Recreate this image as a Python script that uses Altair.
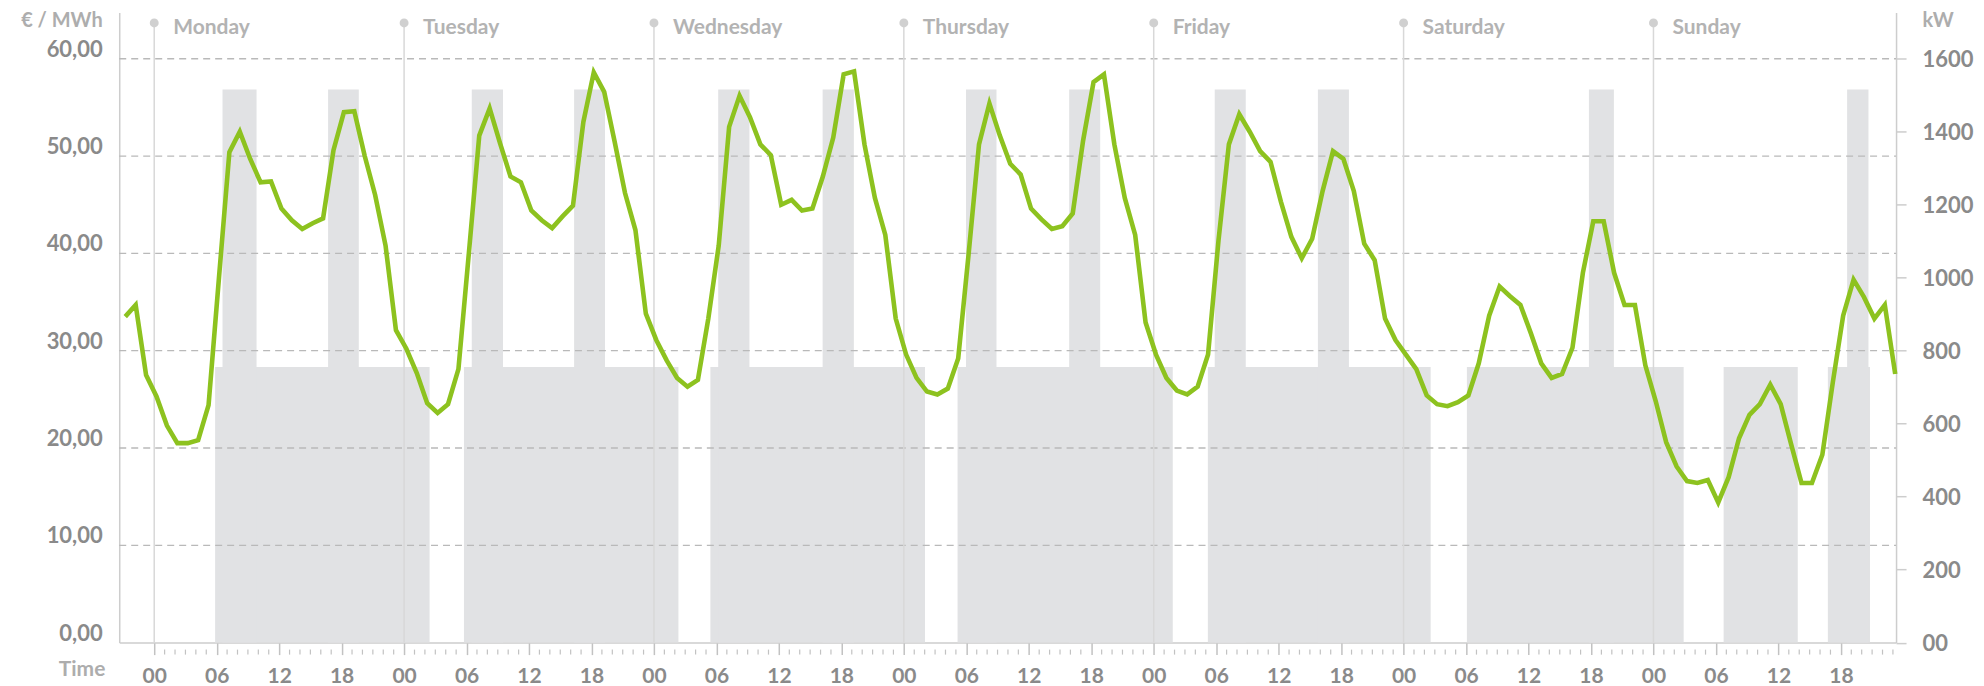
import altair as alt
import pandas as pd

# ---------------- data ----------------
# hourly price points (EUR/MWh), first point 3 hours before Monday 00:00
first_hour = -3
point_offset = 0.22
prices = [
    33.5, 34.7, 27.5,
    # Monday
    25.3, 22.3, 20.5, 20.5, 20.8, 24.4, 37.5, 50.4, 52.5, 49.7, 47.3, 47.4,
    44.6, 43.4, 42.5, 43.1, 43.6, 50.6, 54.5, 54.6, 50.0, 46.0, 40.8, 32.1,
    # Tuesday
    30.2, 27.7, 24.6, 23.6, 24.5, 28.1, 40.0, 52.1, 54.9, 51.3, 47.9, 47.3,
    44.4, 43.4, 42.6, 43.8, 44.9, 53.5, 58.6, 56.6, 51.5, 46.2, 42.4, 33.8,
    # Wednesday
    31.1, 29.0, 27.2, 26.3, 27.0, 33.3, 40.8, 53.0, 56.2, 54.0, 51.2, 50.1,
    45.0, 45.5, 44.4, 44.6, 47.9, 51.9, 58.4, 58.7, 51.2, 45.7, 41.9, 33.3,
    # Thursday
    29.6, 27.2, 25.8, 25.5, 26.1, 29.2, 39.9, 51.2, 55.4, 52.1, 49.2, 48.1,
    44.6, 43.5, 42.5, 42.8, 44.1, 51.6, 57.6, 58.4, 51.2, 45.7, 41.9, 32.9,
    # Friday
    29.6, 27.2, 25.9, 25.5, 26.3, 29.6, 41.3, 51.2, 54.3, 52.5, 50.5, 49.4,
    45.3, 41.7, 39.5, 41.5, 46.4, 50.5, 49.7, 46.4, 41.0, 39.3, 33.3, 31.1,
    # Saturday
    29.6, 28.1, 25.4, 24.5, 24.3, 24.7, 25.4, 28.7, 33.6, 36.6, 35.6, 34.7,
    31.8, 28.7, 27.2, 27.6, 30.3, 38.0, 43.3, 43.3, 38.0, 34.7, 34.7, 28.5,
    # Sunday
    24.8, 20.6, 18.1, 16.6, 16.4, 16.7, 14.4, 17.0, 21.0, 23.4, 24.5, 26.5,
    24.5, 20.4, 16.4, 16.4, 19.3, 26.7, 33.6, 37.3, 35.5, 33.3, 34.7, 27.6,
]

day_names = ["Monday", "Tuesday", "Wednesday", "Thursday", "Friday", "Saturday", "Sunday"]
day_starts = [0, 24, 48, 72, 96, 120, 144]

# grey load blocks (hours since Monday 00:00, kW)
low_start = [5.85, 29.75, 53.42, 77.16, 101.2, 126.08, 150.74, 160.75]
low_end = [26.45, 50.35, 74.03, 97.83, 122.6, 146.9, 157.86, 164.8]
low_kw = 755
peak_start = [6.56, 16.7, 30.5, 40.33, 54.17, 64.2, 77.97, 87.88, 101.86, 111.77, 137.8, 162.6]
peak_end = [9.83, 19.65, 33.5, 43.3, 57.17, 67.2, 80.9, 90.86, 104.84, 114.75, 140.2, 164.65]
peak_kw = 1515

price_ticks = [0, 10, 20, 30, 40, 50, 60]
grid_values = [10, 20, 30, 40, 50, 60]
kw_ticks = [0, 200, 400, 600, 800, 1000, 1200, 1400, 1600]
major_hours = list(range(0, 168, 6))
minor_hours = [h for h in range(0, 168) if h % 6 != 0]

# ---------------- tables ----------------
line_df = pd.DataFrame({
    "h": [first_hour + i + point_offset for i in range(len(prices))],
    "price": prices,
})
blocks_df = pd.DataFrame({
    "start": low_start + peak_start,
    "end": low_end + peak_end,
    "kw": [low_kw] * len(low_start) + [peak_kw] * len(peak_start),
})
days_df = pd.DataFrame({"h": day_starts, "name": day_names})
grid_df = pd.DataFrame({"v": grid_values})
minor_df = pd.DataFrame({"h": minor_hours})

# ---------------- styling ----------------
W, H = 1778, 630.5
FONT = "Lato"
LABEL_GREY = "#8a8a8a"
LIGHT_GREY = "#adadad"
AXIS_GREY = "#cdcdcd"

xscale = alt.Scale(domain=[-3.36, 167.3], nice=False, zero=False)
xaxis = alt.Axis(
    values=major_hours,
    labelExpr="(datum.value % 24 < 10 ? '0' : '') + (datum.value % 24)",
    title="Time", titleX=-61, titleY=27, titleAlign="left", titleBaseline="middle",
    titleFont=FONT, titleFontSize=21, titleFontWeight="bold", titleColor=LIGHT_GREY,
    labelFont=FONT, labelFontSize=21, labelFontWeight="bold", labelColor=LABEL_GREY,
    labelPadding=11, labelBaseline="top", labelFlush=False, labelOverlap=False,
    domainColor=AXIS_GREY, domainWidth=1.5,
    tickColor="#c2c2c2", tickSize=12, tickWidth=1.5, grid=False,
)

price_scale = alt.Scale(domain=[0, 64.75], nice=False, zero=True)
kw_scale = alt.Scale(domain=[0, 1726], nice=False, zero=True)

left_axis = alt.Axis(
    orient="left", values=price_ticks,
    labelExpr="replace(format(datum.value, '.2f'), '.', ',')",
    title="€ / MWh", titleAngle=0, titleX=-17, titleY=7.5,
    titleAlign="right", titleBaseline="middle",
    titleFont=FONT, titleFontSize=20, titleFontWeight="bold", titleColor=LIGHT_GREY,
    labelFont=FONT, labelFontSize=22, labelFontWeight="bold", labelColor=LABEL_GREY,
    labelPadding=17, labelBaseline="middle", labelOffset=-9.5,
    labelFlush=False, labelOverlap=False,
    ticks=False, tickSize=0, grid=False,
    domainColor=AXIS_GREY, domainWidth=1.5,
)
right_axis = alt.Axis(
    orient="right", values=kw_ticks,
    labelExpr="datum.value == 0 ? '00' : '' + datum.value",
    title="kW", titleAngle=0, titleX=26, titleY=8,
    titleAlign="left", titleBaseline="middle",
    titleFont=FONT, titleFontSize=20, titleFontWeight="bold", titleColor=LIGHT_GREY,
    labelFont=FONT, labelFontSize=22, labelFontWeight="bold", labelColor=LABEL_GREY,
    labelPadding=16, labelBaseline="middle", labelOffset=1,
    labelFlush=False, labelOverlap=False,
    tickSize=10, tickColor=AXIS_GREY, tickWidth=1.5, grid=False,
    domainColor=AXIS_GREY, domainWidth=1.5,
)

# ---------------- layers ----------------
blocks = alt.Chart(blocks_df).mark_rect(color="#e1e2e4").encode(
    x=alt.X("start:Q", scale=xscale, axis=xaxis),
    x2="end:Q",
    y=alt.Y("kw:Q", scale=kw_scale, axis=right_axis),
    y2=alt.datum(0),
)

grid = alt.Chart(grid_df).mark_rule(color="#b9b9b9", strokeWidth=1.3, strokeDash=[7, 5]).encode(
    y=alt.Y("v:Q", scale=price_scale, axis=None),
    x=alt.value(0),
    x2=alt.value(W),
)

day_rules = alt.Chart(days_df).mark_rule(color="#d8d8d8", strokeWidth=1.5).encode(
    x=alt.X("h:Q", scale=xscale, axis=xaxis),
    y=alt.value(10.4),
    y2=alt.value(H),
)

price_line = alt.Chart(line_df).mark_line(color="#8dc21f", strokeWidth=4.6).encode(
    x=alt.X("h:Q", scale=xscale, axis=xaxis),
    y=alt.Y("price:Q", scale=price_scale, axis=left_axis),
)

day_dots = alt.Chart(days_df).mark_point(filled=True, color="#d0d0d0", size=80, opacity=1).encode(
    x=alt.X("h:Q", scale=xscale, axis=xaxis),
    y=alt.value(10.4),
)

day_text = alt.Chart(days_df).mark_text(
    align="left", baseline="middle", dx=19, font=FONT, fontSize=21,
    fontWeight="bold", color="#b3b3b3",
).encode(
    x=alt.X("h:Q", scale=xscale, axis=xaxis),
    y=alt.value(15),
    text="name:N",
)

minor_ticks = alt.Chart(minor_df).mark_rule(color="#c2c2c2", strokeWidth=1.2).encode(
    x=alt.X("h:Q", scale=xscale, axis=xaxis),
    y=alt.value(H + 7),
    y2=alt.value(H + 12),
)

chart = alt.layer(
    blocks, grid, day_rules, price_line, day_dots, day_text, minor_ticks
).resolve_scale(
    y="independent"
).properties(
    width=W, height=H,
    autosize=alt.AutoSizeParams(type="none"),
    padding={"left": 111.3, "top": 4.3, "right": 80, "bottom": 47},
).configure_view(strokeWidth=0)

chart.save("out.html", embed_options={"renderer": "svg", "actions": False})
